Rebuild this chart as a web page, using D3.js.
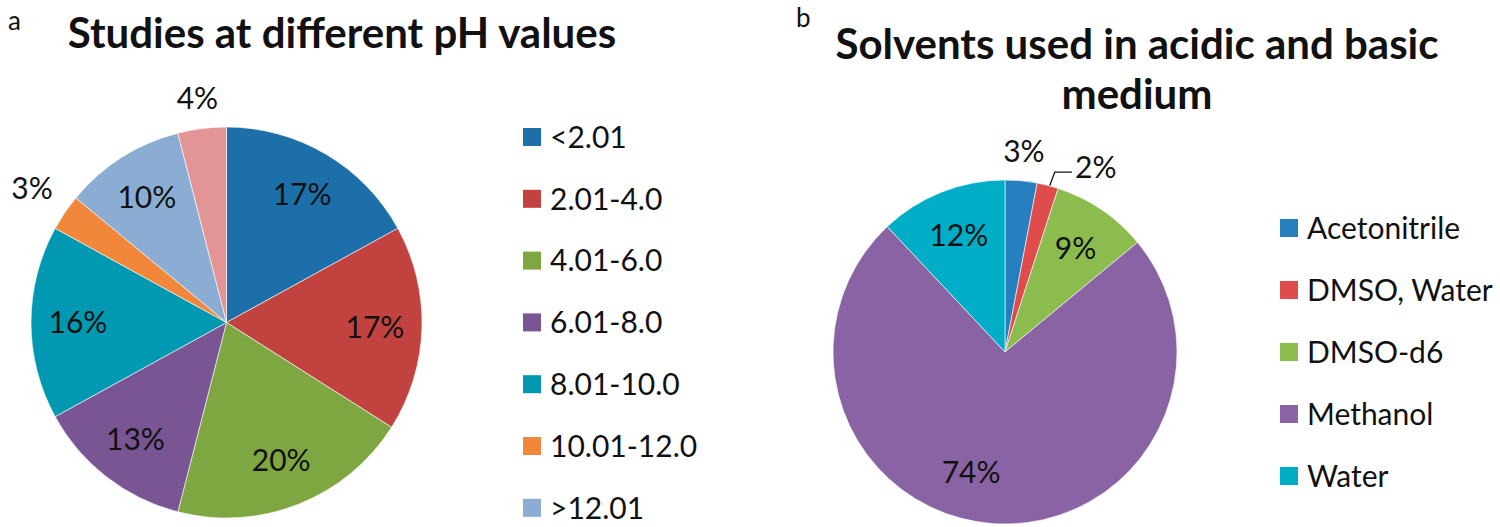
<!DOCTYPE html>
<html>
<head>
<meta charset="utf-8">
<script src="https://cdn.jsdelivr.net/npm/d3@7/dist/d3.min.js"></script>
<style>
  html, body { margin: 0; padding: 0; background: #fff; }
  svg { display: block; }
  text { font-family: Lato, "Open Sans", sans-serif; fill: #111; }
</style>
</head>
<body>
<svg id="chart" width="1500" height="527"></svg>
<script>
// ---- Data ----
const phCategories = ["<2.01", "2.01-4.0", "4.01-6.0", "6.01-8.0", "8.01-10.0", "10.01-12.0", ">12.01", "Other"];
const phValues = [17, 17, 20, 13, 16, 3, 10, 4];
const phColors = ["#1C6FA9", "#C2423F", "#7EA742", "#7A5593", "#0099B1", "#F0873A", "#8BACD3", "#E39495"];

const solventCategories = ["Acetonitrile", "DMSO, Water", "DMSO-d6", "Methanol", "Water"];
const solventValues = [3, 2, 9, 74, 12];
const solventColors = ["#2680C0", "#DF4C4B", "#8DBC4E", "#8A63A4", "#00ADC7"];

// ---- Layout / style ----
const W = 1500, H = 527;
const svg = d3.select("#chart");

function drawPie(opts) {
  const g = svg.append("g").attr("transform", `translate(${opts.cx},${opts.cy})`);
  const pie = d3.pie().sort(null).value(d => d.value);
  const data = opts.categories.map((c, i) => ({ name: c, value: opts.values[i], color: opts.colors[i], i }));
  const arcs = pie(data);
  const arc = d3.arc().innerRadius(0).outerRadius(opts.r);

  g.selectAll("path.slice").data(arcs).join("path")
    .attr("class", "slice")
    .attr("d", arc)
    .attr("fill", d => d.data.color)
    .attr("stroke", "#ffffff")
    .attr("stroke-width", 0.6);

  arcs.forEach((a, k) => {
    const outside = opts.outside.includes(k);
    const lr = outside ? opts.r * opts.outR : opts.r * opts.inR;
    const la = d3.arc().innerRadius(lr).outerRadius(lr);
    let [x, y] = la.centroid(a);
    const n = opts.nudge[k] || [0, 0];
    x += n[0]; y += n[1];
    if (opts.leader && opts.leader.includes(k)) {
      const ea = d3.arc().innerRadius(opts.r).outerRadius(opts.r);
      const [ex, ey] = ea.centroid(a);
      g.append("path")
        .attr("d", d3.line()([[ex + 2, ey], [ex + 7, y + 5], [x - 20, y + 5]]))
        .attr("fill", "none").attr("stroke", "#111").attr("stroke-width", 1.3);
      g.append("text").attr("x", x - 17).attr("y", y).attr("dy", "0.35em")
        .attr("text-anchor", "start").attr("font-size", 30)
        .text(a.data.value + "%");
    } else {
      g.append("text").attr("x", x).attr("y", y).attr("dy", "0.35em")
        .attr("text-anchor", "middle").attr("font-size", 30)
        .text(a.data.value + "%");
    }
  });

  // legend
  const lg = svg.append("g");
  data.forEach((d, i) => {
    const yc = opts.legendY0 + i * opts.legendStep;
    if (yc > H) return;
    lg.append("rect").attr("x", opts.legendX).attr("y", yc - 9).attr("width", 18).attr("height", 18)
      .attr("fill", d.color);
    lg.append("text").attr("x", opts.legendX + 27).attr("y", yc).attr("dy", "0.36em")
      .attr("font-size", 30).text(d.name);
  });
}

drawPie({
  cx: 226.5, cy: 322.5, r: 195.5,
  categories: phCategories, values: phValues, colors: phColors,
  inR: 0.76, outR: 1.19, outside: [5, 7],
  nudge: { 5: [-2, -3], 7: [0, 7] },
  legendX: 523, legendY0: 137, legendStep: 61.8
});

drawPie({
  cx: 1005, cy: 352, r: 172,
  categories: solventCategories, values: solventValues, colors: solventColors,
  inR: 0.73, outR: 1.17, outside: [0, 1], leader: [1],
  nudge: { 1: [37, 10], 3: [-26, -5] },
  legendX: 1280, legendY0: 228, legendStep: 62
});

// titles
svg.append("text").attr("x", 8).attr("y", 30).attr("font-size", 26).text("a");
svg.append("text").attr("x", 342).attr("y", 48).attr("text-anchor", "middle")
  .attr("font-size", 42).attr("font-weight", "bold").text("Studies at different pH values");

svg.append("text").attr("x", 796).attr("y", 27).attr("font-size", 26).text("b");
svg.append("text").attr("x", 1137).attr("y", 59).attr("text-anchor", "middle")
  .attr("font-size", 42).attr("font-weight", "bold").text("Solvents used in acidic and basic");
svg.append("text").attr("x", 1137).attr("y", 109).attr("text-anchor", "middle")
  .attr("font-size", 42).attr("font-weight", "bold").text("medium");
</script>
</body>
</html>
